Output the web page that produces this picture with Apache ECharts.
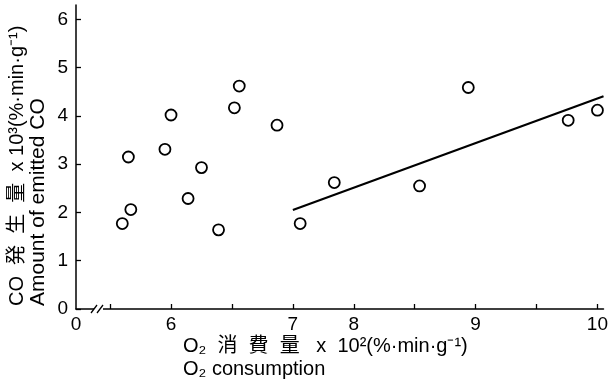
<!DOCTYPE html>
<html>
<head>
<meta charset="utf-8">
<script src="https://cdn.jsdelivr.net/npm/echarts@6.0.0/dist/echarts.min.js"></script>
<style>
  html, body { margin: 0; padding: 0; background: #fff; }
  #chart { width: 611px; height: 382px; }
</style>
</head>
<body>
<div id="chart"></div>
<script>
// O2 consumption (x10^2) vs amount of emitted CO (x10^3)
const o2Consumption = [7.06, 7.02, 6.50, 7.37, 6.15, 6.45, 6.75, 6.64, 6.17, 6.10, 6.89, 7.84, 7.56, 8.54, 8.94, 9.76, 10.0];
const coEmitted    = [4.62, 4.17, 4.02, 3.81, 3.15, 3.31, 2.93, 2.29, 2.06, 1.77, 1.64, 2.62, 1.77, 2.55, 4.59, 3.91, 4.12];

// fitted line end points
const fitX = [7.50, 10.05];
const fitY = [2.05, 4.41];

// axis ticks / labels as printed on the figure
const xTickValues = [6, 6.5, 7, 7.5, 8, 8.5, 9, 9.5, 10];
const xLabelValues = [5.72, 6.5, 7.5, 8, 9, 10];
const xLabelTexts = ['0', '6', '7', '8', '9', '10'];
const yTickValues = [0, 1, 2, 3, 4, 5, 6];

const FONT = '"Liberation Sans", Arial, "Noto Sans CJK JP", sans-serif';

const chart = echarts.init(document.getElementById('chart'));

const scatterData = o2Consumption.map((x, i) => [x, coEmitted[i]]);
const fitData = fitX.map((x, i) => [x, fitY[i]]);

const option = {
  backgroundColor: '#fff',
  animation: false,
  grid: { left: 76, right: 5, top: 5, bottom: 73 },
  xAxis: {
    type: 'value',
    min: 5.72,
    max: 10.05,
    axisLine: { lineStyle: { color: '#000', width: 1.5 } },
    axisTick: {
      inside: true,
      length: 5,
      customValues: xTickValues,
      lineStyle: { color: '#000', width: 1.3 }
    },
    axisLabel: {
      customValues: xLabelValues,
      formatter: v => {
        const i = xLabelValues.findIndex(t => Math.abs(t - v) < 1e-6);
        return i >= 0 ? xLabelTexts[i] : '';
      },
      color: '#000',
      fontSize: 19,
      fontFamily: FONT,
      margin: 6
    },
    splitLine: { show: false }
  },
  yAxis: {
    type: 'value',
    min: 0,
    max: 6.3,
    axisLine: { show: true, lineStyle: { color: '#000', width: 1.5 } },
    axisTick: {
      show: true,
      inside: true,
      length: 5,
      customValues: yTickValues,
      lineStyle: { color: '#000', width: 1.3 }
    },
    axisLabel: {
      customValues: yTickValues,
      color: '#000',
      fontSize: 19,
      fontFamily: FONT,
      margin: 8
    },
    splitLine: { show: false }
  },
  series: [
    {
      type: 'line',
      data: fitData,
      symbol: 'none',
      lineStyle: { color: '#000', width: 2.2 },
      z: 2
    },
    {
      type: 'scatter',
      data: scatterData,
      symbol: 'circle',
      symbolSize: 11,
      itemStyle: { color: '#fff', borderColor: '#000', borderWidth: 1.8, opacity: 1 },
      z: 3
    }
  ],
  graphic: [
    // axis break marks
    { type: 'rect', shape: { x: 94, y: 304, width: 9, height: 8 }, style: { fill: '#fff' }, z: 100 },
    { type: 'line', shape: { x1: 91, y1: 313, x2: 97, y2: 305 }, style: { stroke: '#000', lineWidth: 1.3 }, z: 101 },
    { type: 'line', shape: { x1: 97, y1: 313, x2: 103, y2: 305 }, style: { stroke: '#000', lineWidth: 1.3 }, z: 101 },
    // y axis titles
    {
      type: 'text', x: 17, y: 306, rotation: Math.PI / 2,
      style: { text: 'CO  発  生  量  x 10³(%·min·g⁻¹)', font: '20px ' + FONT, fill: '#000', align: 'left', verticalAlign: 'middle' }
    },
    {
      type: 'text', x: 38, y: 306, rotation: Math.PI / 2,
      style: { text: 'Amount of emitted CO', font: '21px ' + FONT, fill: '#000', align: 'left', verticalAlign: 'middle' }
    },
    // x axis titles
    {
      type: 'text', x: 183, y: 346,
      style: { text: 'O₂  消  費  量   x  10²(%·min·g⁻¹)', font: '20px ' + FONT, fill: '#000', align: 'left', verticalAlign: 'middle' }
    },
    {
      type: 'text', x: 183, y: 369,
      style: { text: 'O₂ consumption', font: '20px ' + FONT, fill: '#000', align: 'left', verticalAlign: 'middle' }
    }
  ]
};

chart.setOption(option);
</script>
</body>
</html>
